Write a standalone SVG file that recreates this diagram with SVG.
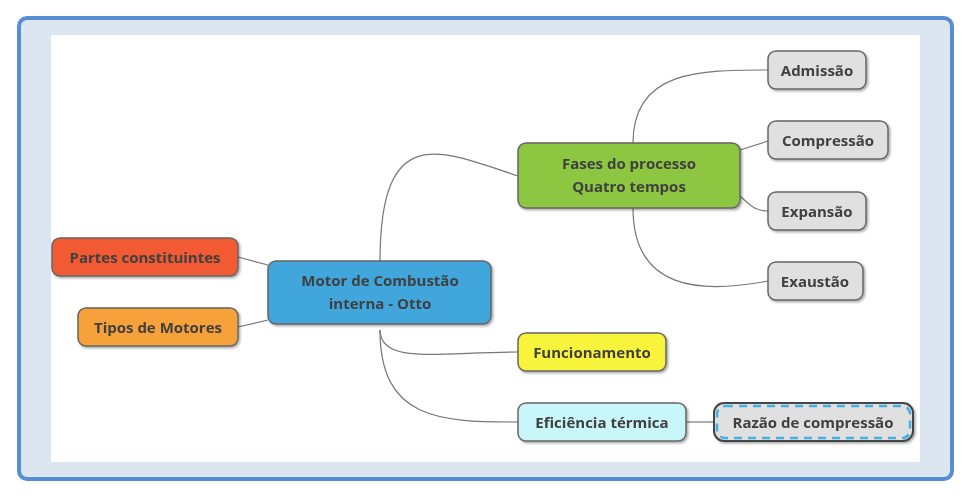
<svg xmlns="http://www.w3.org/2000/svg" width="971" height="498" viewBox="0 0 971 498">
<style>
.n{stroke:#666;stroke-width:1.5}
.t{font-family:"Open Sans","DejaVu Sans",sans-serif;font-weight:bold;font-size:15px;fill:#404040;text-anchor:middle}
.c{fill:none;stroke:#777;stroke-width:1.2}
</style>
<defs><filter id="s"><feDropShadow dx="1.5" dy="1.5" stdDeviation="1" flood-opacity="0.35"/></filter></defs>
<rect x="19" y="18" width="933" height="461" rx="8" fill="#dce6f1" stroke="#558ed5" stroke-width="4"/>
<rect x="51" y="35" width="869" height="427" fill="#fff"/>
<g id="connectors">
<path class="c" d="M380 262 C380 120 440 150 518 176"/>
<path class="c" d="M380 330 C380 420 440 422 518 422"/>
<path class="c" d="M380 330 C380 365 440 352 518 352"/>
<path class="c" d="M238 257 L268 265"/>
<path class="c" d="M238 327 L268 320"/>
<path class="c" d="M633 143 C633 70 700 70 768 70"/>
<path class="c" d="M740 150 L768 141"/>
<path class="c" d="M740 196 C750 205 755 211 768 211"/>
<path class="c" d="M633 208 C633 290 700 294 768 281"/>
<path class="c" d="M686 422 L714 422"/>
</g>
<g filter="url(#s)">
<g id="motor"><rect class="n" x="268" y="261" width="223" height="63" rx="8" fill="#3fa6dc"/><text class="t" x="380" y="286">Motor de Combustão</text><text class="t" x="380" y="309">interna - Otto</text></g>
<g id="fases"><rect class="n" x="518" y="143" width="222" height="65" rx="8" fill="#8dc63f"/><text class="t" x="629" y="169">Fases do processo</text><text class="t" x="629" y="192">Quatro tempos</text></g>
<g id="partes"><rect class="n" x="52" y="238" width="186" height="38" rx="8" fill="#f15a30"/><text class="t" x="145" y="263">Partes constituintes</text></g>
<g id="tipos"><rect class="n" x="78" y="308" width="160" height="38" rx="8" fill="#f7a13a"/><text class="t" x="158" y="333">Tipos de Motores</text></g>
<g id="func"><rect class="n" x="518" y="333" width="148" height="38" rx="8" fill="#f8f33a"/><text class="t" x="592" y="358">Funcionamento</text></g>
<g id="efic"><rect class="n" x="518" y="403" width="168" height="38" rx="8" fill="#c9f6f8"/><text class="t" x="602" y="428">Eficiência térmica</text></g>
<g id="razao"><rect x="714" y="403" width="199" height="38" rx="10" fill="#e0e0e0" stroke="#444" stroke-width="2"/><rect x="717" y="406" width="193" height="32" rx="8" fill="none" stroke="#3fb0e6" stroke-width="2.5" stroke-dasharray="8,6"/><text class="t" x="813" y="428">Razão de compressão</text></g>
<g id="adm"><rect class="n" x="768" y="51" width="98" height="38" rx="8" fill="#e0e0e0"/><text class="t" x="817" y="76">Admissão</text></g>
<g id="comp"><rect class="n" x="768" y="121" width="120" height="38" rx="8" fill="#e0e0e0"/><text class="t" x="828" y="146">Compressão</text></g>
<g id="exp"><rect class="n" x="768" y="192" width="98" height="38" rx="8" fill="#e0e0e0"/><text class="t" x="817" y="217">Expansão</text></g>
<g id="exa"><rect class="n" x="768" y="262" width="95" height="38" rx="8" fill="#e0e0e0"/><text class="t" x="815" y="287">Exaustão</text></g>
</g>
</svg>
